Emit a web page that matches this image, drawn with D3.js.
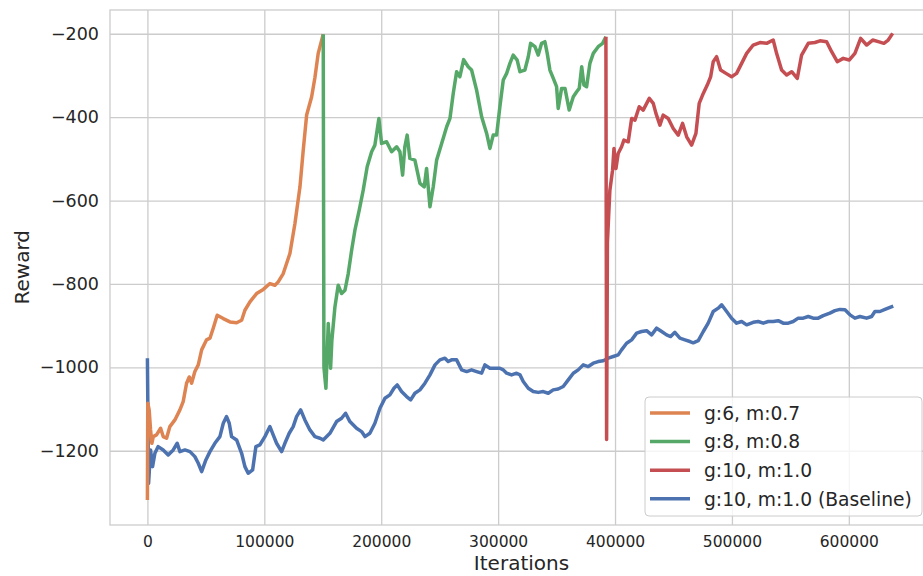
<!DOCTYPE html>
<html>
<head>
<meta charset="utf-8">
<script src="https://cdn.jsdelivr.net/npm/d3@7"></script>
<style>
  body { margin: 0; background: #fff; }
  svg { display: block; font-family: "DejaVu Sans", sans-serif; }
</style>
</head>
<body>
<div id="chart"></div>
<script>
// Reward curves, [iteration, reward]
const baseline = [
  [0, -978], [1000, -1278], [2700, -1198], [4400, -1238], [6400, -1206], [9200, -1190],
  [13500, -1198], [17800, -1210], [22100, -1198], [25500, -1182], [27800, -1202], [32100, -1198],
  [36400, -1202], [40600, -1214], [43500, -1230], [46400, -1250], [50000, -1222], [53500, -1202],
  [57700, -1182], [62000, -1166], [64900, -1134], [67700, -1118], [70000, -1134], [72000, -1166],
  [76300, -1174], [80600, -1206], [83400, -1238], [86200, -1254], [90000, -1246], [92800, -1190],
  [96200, -1186], [100500, -1166], [104800, -1142], [107600, -1162], [110500, -1182], [114800, -1202],
  [117600, -1182], [121300, -1158], [124700, -1142], [127600, -1118], [131100, -1102], [134700, -1126],
  [139000, -1150], [143300, -1166], [147600, -1170], [150400, -1174], [156100, -1158], [161800, -1130],
  [166100, -1122], [169500, -1110], [173200, -1130], [178900, -1146], [183200, -1154], [186100, -1166],
  [190300, -1158], [194600, -1134], [198900, -1098], [203200, -1074], [207400, -1066], [210900, -1050],
  [213700, -1042], [217400, -1058], [221700, -1070], [225200, -1078], [228800, -1062], [233100, -1054],
  [237400, -1038], [241700, -1018], [246000, -994], [250200, -982], [254500, -978], [257300, -986],
  [260200, -982], [264500, -982], [268800, -1006], [273100, -1010], [277300, -1006], [281600, -1010],
  [285900, -1014], [288700, -994], [293000, -1002], [297300, -1002], [301500, -1002], [304400, -1006],
  [307300, -1014], [311500, -1018], [315800, -1014], [318700, -1018], [321500, -1034], [325800, -1050],
  [330000, -1058], [334300, -1060], [338600, -1058], [342900, -1062], [347100, -1054], [351400, -1052],
  [355700, -1046], [360000, -1030], [364300, -1014], [368500, -1006], [372800, -994], [377100, -998],
  [381400, -990], [385600, -986], [389900, -984], [394200, -978], [398500, -974], [402700, -970],
  [405600, -958], [409900, -942], [414200, -934], [418500, -918], [422700, -914], [427000, -912],
  [431300, -922], [435600, -906], [439900, -914], [444100, -922], [447600, -926], [451200, -916],
  [455500, -930], [459800, -934], [464100, -938], [466900, -941], [471200, -936], [475500, -914],
  [479700, -894], [484000, -866], [488300, -858], [491200, -850], [495500, -866], [499700, -882],
  [504000, -894], [508300, -890], [512600, -898], [518200, -892], [522500, -890], [526800, -894],
  [531100, -890], [535300, -890], [539600, -888], [543900, -894], [548200, -894], [552400, -890],
  [556700, -882], [561000, -882], [565300, -878], [569500, -882], [573800, -882], [578100, -876],
  [583800, -870], [588100, -864], [592400, -861], [596700, -862], [601000, -874], [605200, -882],
  [609500, -878], [615200, -882], [619500, -878], [622300, -866], [626600, -866], [630900, -861],
  [635200, -856], [638000, -853]
];

const runG6 = [
  [0, -1318], [300, -1086], [1500, -1102], [2700, -1150], [3800, -1182], [5000, -1166],
  [7800, -1162], [11300, -1146], [13500, -1166], [16400, -1170], [19200, -1142], [23500, -1126],
  [27800, -1102], [30600, -1082], [33500, -1038], [35800, -1023], [37800, -1038], [40600, -1010],
  [43500, -994], [46400, -958], [50600, -934], [53500, -930], [56300, -906], [59700, -875],
  [64900, -883], [70600, -891], [76300, -893], [80600, -887], [83400, -863], [87700, -843],
  [93400, -823], [99100, -813], [104800, -799], [109100, -803], [111900, -795], [116200, -775],
  [121900, -727], [126200, -655], [130500, -567], [133300, -479], [136200, -395], [140500, -351],
  [143300, -305], [146100, -247], [150400, -201]
];

const runG8 = [
  [150400, -201], [151000, -1000], [152700, -1050], [154700, -895], [156700, -1002], [157800, -935],
  [160400, -855], [163200, -803], [166100, -823], [169000, -815], [171800, -775], [174700, -719],
  [177500, -671], [181200, -623], [184600, -575], [188000, -519], [191800, -483], [194600, -467],
  [198000, -403], [200300, -463], [204600, -459], [208900, -483], [213200, -471], [216000, -483],
  [218300, -539], [220200, -471], [222200, -443], [224500, -499], [228800, -503], [233100, -559],
  [236800, -567], [238800, -523], [241700, -615], [244500, -567], [247400, -503], [251700, -463],
  [256000, -423], [258800, -403], [261600, -343], [264500, -291], [267300, -303], [270500, -262],
  [274400, -279], [277300, -287], [281600, -335], [285900, -399], [290200, -439], [293000, -475],
  [295800, -443], [298700, -443], [301500, -375], [304400, -311], [307300, -295], [310100, -271],
  [312900, -251], [316300, -263], [318700, -291], [322900, -287], [325800, -255], [327800, -223],
  [331500, -231], [334300, -251], [337200, -223], [340000, -219], [342000, -247], [344300, -287],
  [347200, -307], [350000, -327], [351400, -379], [354300, -331], [357200, -331], [360800, -383],
  [364300, -351], [367200, -339], [369400, -331], [371500, -279], [373400, -323], [375700, -327],
  [378500, -271], [381400, -247], [385600, -231], [389400, -223], [392200, -207]
];

const runG10 = [
  [392200, -207], [392800, -1173], [393500, -700], [394500, -640], [395600, -575], [397900, -527],
  [399100, -475], [400800, -523], [402700, -487], [405600, -471], [407600, -455], [411300, -459],
  [414200, -403], [417000, -407], [420700, -375], [424100, -383], [429300, -355], [432700, -367],
  [435000, -391], [438400, -419], [441200, -395], [445500, -403], [449800, -427], [454100, -443],
  [457800, -415], [461300, -447], [465500, -467], [469200, -439], [472000, -367], [475500, -343],
  [478900, -323], [481800, -303], [484000, -267], [486900, -255], [490300, -287], [494900, -295],
  [499700, -303], [504000, -295], [508300, -271], [512600, -247], [518200, -227], [524000, -221],
  [529700, -223], [535300, -215], [538200, -247], [542500, -287], [546800, -299], [551100, -291],
  [555900, -307], [559600, -251], [565300, -223], [571000, -221], [575300, -217], [581000, -219],
  [585300, -243], [590100, -267], [595200, -259], [600300, -263], [605200, -247], [610100, -211],
  [615200, -227], [620400, -215], [625200, -219], [630000, -223], [633700, -215], [637500, -199]
];

const seriesNames = ["g:6, m:0.7", "g:8, m:0.8", "g:10, m:1.0", "g:10, m:1.0 (Baseline)"];
const seriesColors = ["#DD8452", "#55A868", "#C44E52", "#4C72B0"];
const seriesData = [runG6, runG8, runG10, baseline];
const drawOrder = [3, 0, 1, 2];

const xTicks = [0, 100000, 200000, 300000, 400000, 500000, 600000];
const yTicks = [-1200, -1000, -800, -600, -400, -200];

const width = 923;
const height = 576;
const margin = { top: 10, right: -10, bottom: 51, left: 110 };
const innerW = width - margin.left - margin.right;
const innerH = height - margin.top - margin.bottom;

const svg = d3.select("#chart").append("svg")
  .attr("width", width)
  .attr("height", height);

const g = svg.append("g")
  .attr("transform", `translate(${margin.left},${margin.top})`);

const x = d3.scaleLinear().domain([-32000, 672000]).range([0, innerW]);
const y = d3.scaleLinear().domain([-1378, -143]).range([innerH, 0]);

const gridColor = "#cccccc";
const textColor = "#262626";
const fmtMinus = d => String(d).replace("-", "\u2212");

// Grid
g.append("g")
  .attr("transform", `translate(0,${innerH})`)
  .call(d3.axisBottom(x).tickValues(xTicks).tickSize(-innerH).tickFormat(""))
  .call(a => a.select(".domain").remove())
  .call(a => a.selectAll("line").attr("stroke", gridColor).attr("stroke-width", 1.3));

g.append("g")
  .call(d3.axisLeft(y).tickValues(yTicks).tickSize(-innerW).tickFormat(""))
  .call(a => a.select(".domain").remove())
  .call(a => a.selectAll("line").attr("stroke", gridColor).attr("stroke-width", 1.3));

// Spines
g.append("rect")
  .attr("x", 0).attr("y", 0)
  .attr("width", innerW).attr("height", innerH)
  .attr("fill", "none")
  .attr("stroke", gridColor)
  .attr("stroke-width", 1.3);

// Tick labels
g.append("g")
  .attr("transform", `translate(0,${innerH})`)
  .call(d3.axisBottom(x).tickValues(xTicks).tickSize(0).tickPadding(11).tickFormat(d3.format("d")))
  .call(a => a.select(".domain").remove())
  .call(a => a.selectAll("text")
    .attr("fill", textColor)
    .attr("font-size", "15.5px")
    .attr("font-family", "DejaVu Sans"));

g.append("g")
  .call(d3.axisLeft(y).tickValues(yTicks).tickSize(0).tickPadding(11).tickFormat(fmtMinus))
  .call(a => a.select(".domain").remove())
  .call(a => a.selectAll("text")
    .attr("fill", textColor)
    .attr("font-size", "17.5px")
    .attr("font-family", "DejaVu Sans"));

// Axis titles
svg.append("text")
  .attr("x", margin.left + x(320000))
  .attr("y", 570)
  .attr("text-anchor", "middle")
  .attr("font-size", "20px")
  .attr("fill", textColor)
  .text("Iterations");

svg.append("text")
  .attr("transform", `translate(29,${margin.top + y(-760)}) rotate(-90)`)
  .attr("text-anchor", "middle")
  .attr("font-size", "20px")
  .attr("fill", textColor)
  .text("Reward");

// Curves
const line = d3.line()
  .x(d => x(d[0]))
  .y(d => y(d[1]));

drawOrder.forEach(i => {
  g.append("path")
    .datum(seriesData[i])
    .attr("fill", "none")
    .attr("stroke", seriesColors[i])
    .attr("stroke-width", 3.5)
    .attr("stroke-linejoin", "round")
    .attr("stroke-linecap", "butt")
    .attr("d", line);
});

// Legend
const legend = svg.append("g").attr("transform", "translate(645,397)");
legend.append("rect")
  .attr("width", 277)
  .attr("height", 119)
  .attr("rx", 4)
  .attr("fill", "rgba(255,255,255,0.8)")
  .attr("stroke", gridColor)
  .attr("stroke-width", 1);

seriesNames.forEach((name, i) => {
  const row = legend.append("g").attr("transform", `translate(0,${16 + i * 28.6})`);
  row.append("line")
    .attr("x1", 5).attr("x2", 45)
    .attr("stroke", seriesColors[i])
    .attr("stroke-width", 3.5);
  row.append("text")
    .attr("x", 59)
    .attr("dy", "0.36em")
    .attr("font-size", "18.7px")
    .attr("fill", textColor)
    .text(name);
});
</script>
</body>
</html>
